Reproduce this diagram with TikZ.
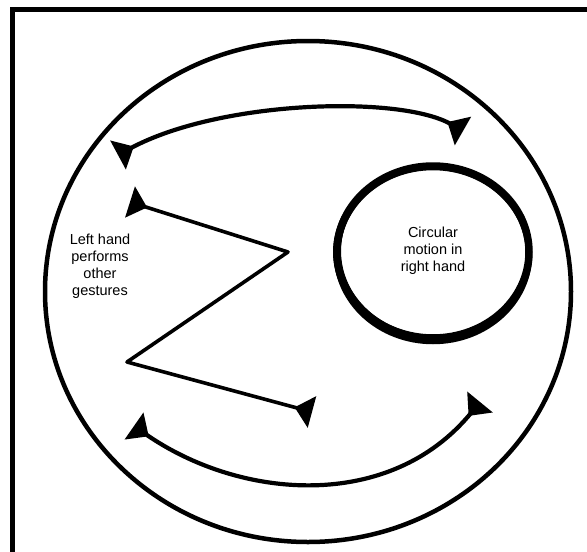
\documentclass[tikz,border=0pt]{standalone}
\usepackage{fontspec}
\setmainfont{Liberation Sans}
\usepackage{tikz}
\usetikzlibrary{arrows.meta,positioning,calc}

\newcommand{\gesturefont}{\fontsize{14.5}{17}\selectfont}

\begin{document}
\begin{tikzpicture}[<->,>={Triangle[reversed, length=18pt, width=32pt]}, x=1pt, y=-1pt,
	brushline/.style={line width=4.2pt, line cap=round, line join=round},
	handtext/.style={font=\gesturefont, inner sep=0pt}]

	\useasboundingbox[fill=white] (0,0) rectangle (587,552);

	% frame and outer circle
	\draw[-, line width=5pt] (12.5,600) |- (640,9.7);
	\draw[-, line width=4.5pt] (308,291.5) ellipse [x radius=263, y radius=250.5];

	\node[handtext, shift = {(100.0, 267.0)}] (left_txt) {
		\begin{tabular}{c}
			Left hand\\
			performs\\
			other\\
			gestures
		\end{tabular}
	};

	\node[handtext, shift = {(433.0, 251.0)}] (right_txt) {
		\begin{tabular}{c}
			Circular\\
			motion in\\
			right hand
		\end{tabular}
	};

	\coordinate (top_l) at (118,155);
	\coordinate (top_r) at (463,131);
	\coordinate (zz_start) at (130,202);
	\coordinate (zz_turn1) at (288,252);
	\coordinate (zz_turn2) at (127,362);
	\coordinate (zz_end) at (312,412);
	\coordinate (bot_l) at (134,426);
	\coordinate (bot_r) at (480,402);

	% brush circle round the right hand text
	\foreach \dx/\dy/\rx/\ry/\w in {0/1/96/86/7.5, 0/3/96/87/6.5, -1/1/97/85/4, 1/0/95/86/4}
		\draw[-, line width=\w pt] ($(right_txt.center) + (\dx, \dy)$) ellipse [x radius=\rx, y radius=\ry];

	\draw[brushline] (top_l) .. controls (220,100) and (400,95) .. (top_r);
	\draw[brushline, line width=3.6pt] (zz_start) -- (zz_turn1) -- (zz_turn2) -- (zz_end);
	\draw[brushline] (bot_l) .. controls (240,500) and (390,512) .. (bot_r);
\end{tikzpicture}
\end{document}
